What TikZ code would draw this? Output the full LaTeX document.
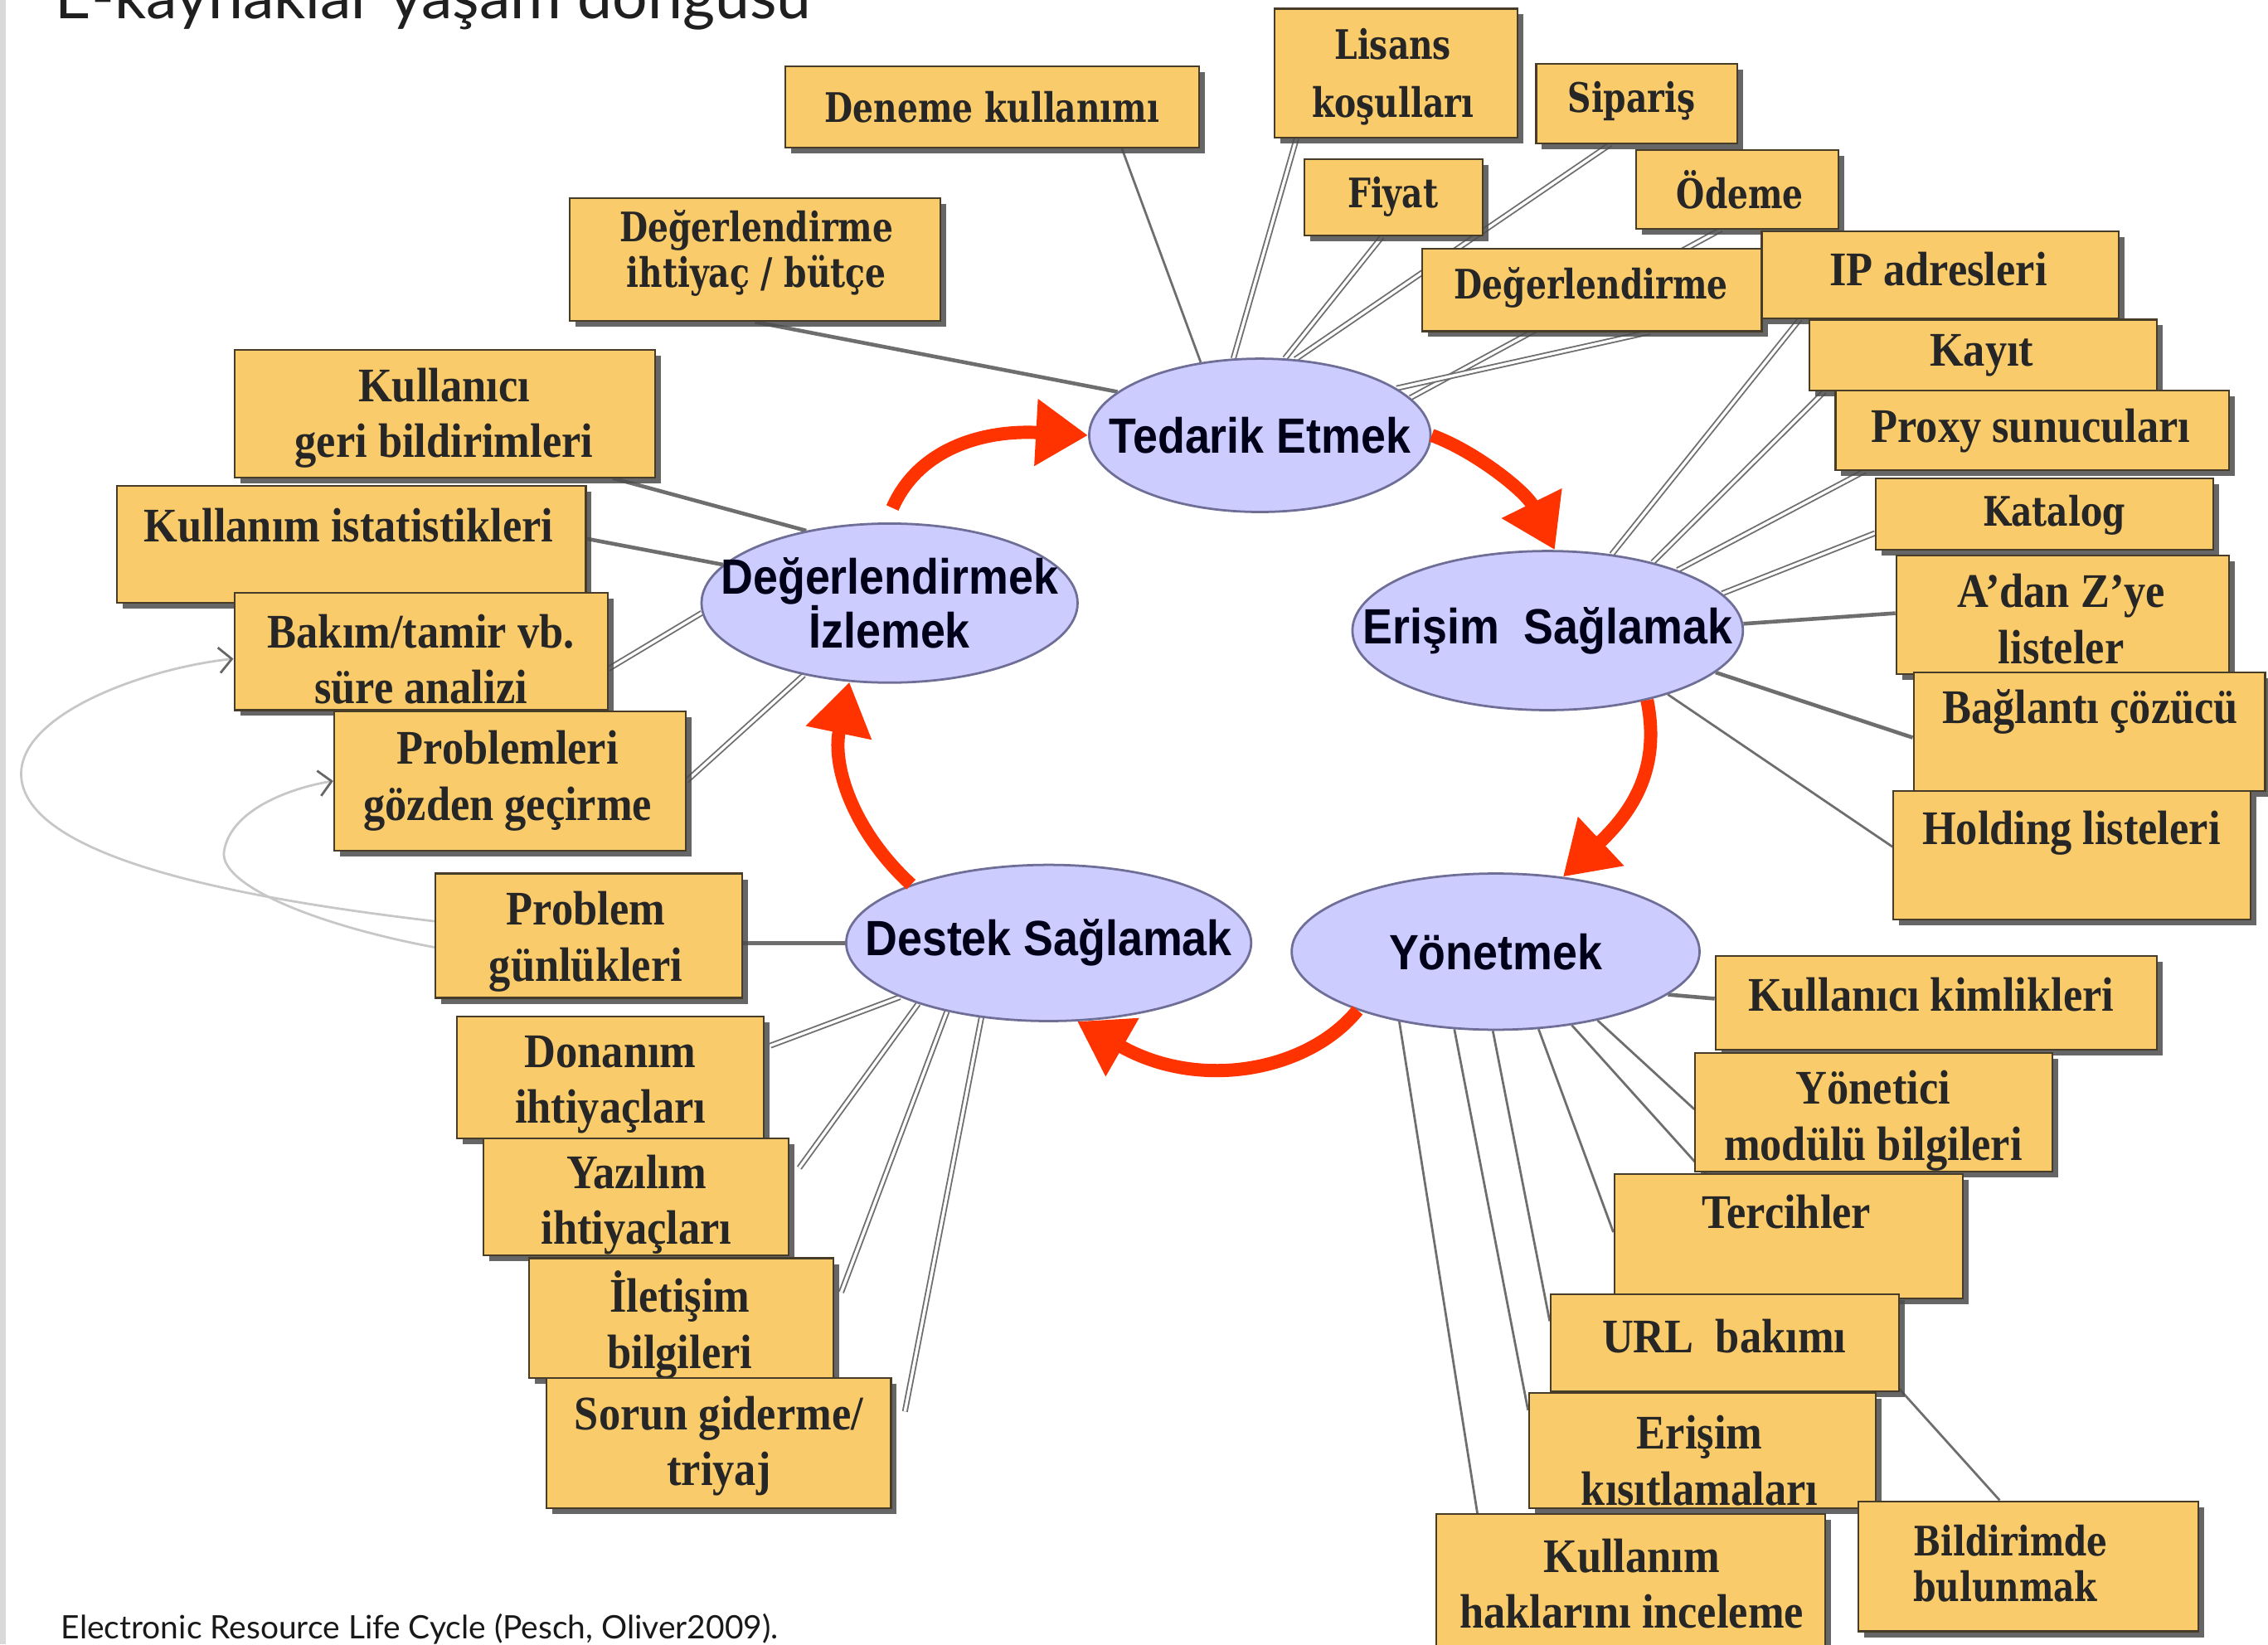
\documentclass[tikz,border=0pt]{standalone}
\usepackage{fontspec}
\usetikzlibrary{shapes.geometric,shadows,arrows.meta,calc}
\newfontfamily\tbfont{Liberation Serif}[FakeStretch=0.9]
\newfontfamily\sbfont{DejaVu Serif}[FakeStretch=0.8]
\newfontfamily\elfont{Liberation Sans}[FakeStretch=0.9]
\newfontfamily\capfont{Lato}
\definecolor{boxfill}{RGB}{250,203,106}
\definecolor{boxdraw}{RGB}{70,60,40}
\definecolor{ellfill}{RGB}{204,204,255}
\definecolor{elldraw}{RGB}{110,110,150}
\definecolor{redarr}{RGB}{255,51,0}
\definecolor{conn}{RGB}{110,110,110}
\pgfdeclarelayer{bg}
\pgfsetlayers{bg,main}
\tikzset{
  box/.style={rectangle, draw=boxdraw, line width=0.7pt, fill=boxfill, inner sep=0pt,
    drop shadow={shadow xshift=0.08cm, shadow yshift=-0.08cm, fill=black!70, opacity=0.85}},
  tb/.style={font=\tbfont\bfseries\fontsize{19}{22}\selectfont, text=black!85, align=center, inner sep=0pt},
  sb/.style={font=\sbfont\bfseries\fontsize{16}{18}\selectfont, text=black!85, align=center, inner sep=0pt},
  sbl/.style={sb, align=left},
  ell/.style={ellipse, draw=elldraw, line width=0.9pt, fill=ellfill, inner sep=0pt},
  etx/.style={font=\elfont\bfseries\fontsize{19.5}{21}\selectfont, text=black!90!blue, align=center, inner sep=0pt},
  rarr/.style={draw=redarr, line width=5.2pt, -{Triangle[width=0.88cm,length=0.72cm]}},
  cthick/.style={draw=conn, line width=1.5pt},
  cthin/.style={draw=conn, line width=0.9pt},
  cdbl/.style={draw=conn, line width=0.6pt, double=white, double distance=1.1pt},
  fa/.style={draw=black!22, line width=0.9pt, -{Straight Barb[length=5pt,width=10pt,color=black!60]}}
}
\newcommand\bx[9]{%
  \node[box, minimum width={(#4-#2)*0.02cm}, minimum height={(#5-#3)*0.02cm}] (#1) at ({(#2+#4)/2},{(#3+#5)/2}) {};
  \node[#8] (#1-t) at (#6,#7) {#9};}
\newcommand\el[6]{%
  \node[ell, minimum width={2*#4*0.02cm}, minimum height={2*#5*0.02cm}] (#1) at (#2,#3) {};
  \node[etx] (#1-t) at (#1) {#6};}
\begin{document}
\begin{tikzpicture}[x=0.02cm, y=-0.02cm]
\useasboundingbox (0,0) rectangle (1568,1137);
\clip (0,0) rectangle (1568,1137);

% title (cut off at the top, as in the source) and caption
\node[anchor=base west, inner sep=0pt, font=\capfont\fontsize{24.5}{26}\selectfont, text=black!88] (title) at (38,13) {E-kaynaklar yaşam döngüsü};
\node[anchor=base west, inner sep=0pt, font=\capfont\fontsize{12.7}{14}\selectfont, text=black!90] (caption) at (42,1133) {Electronic Resource Life Cycle (Pesch, Oliver2009).};

% boxes: top
\bx{den}{543}{46}{829}{102}{686}{74}{sb}{Deneme kullanımı}
\bx{lis}{881}{6}{1049}{95}{963}{53}{sb}{Lisans\\[5pt]koşulları}
\bx{sip}{1062}{44}{1201}{99}{1128}{70}{sb}{Sipariş}
\bx{fiy}{902}{110}{1025}{163}{963}{136}{sb}{Fiyat}
\bx{ode}{1131}{104}{1271}{158}{1203}{131}{sb}{Ödeme}
\bx{deg}{983}{172}{1218}{229}{1100}{199}{sb}{Değerlendirme}
\bx{ip}{1218}{160}{1465}{220}{1340}{186}{tb}{IP adresleri}
\bx{dib}{394}{137}{650}{222}{523}{175}{sb}{Değerlendirme\\ihtiyaç / bütçe}
% right
\bx{kay}{1251}{221}{1491}{270}{1370}{246}{tb}{Kayıt}
\bx{pro}{1269}{270}{1541}{325}{1404}{298}{tb}{Proxy sunucuları}
\bx{kat}{1297}{331}{1530}{380}{1420}{356}{sb}{Katalog}
\bx{adz}{1311}{384}{1541}{466}{1425}{428}{tb}{A’dan Z’ye\\listeler}
\bx{bag}{1323}{465}{1566}{547}{1445}{492}{tb}{Bağlantı çözücü}
\bx{hol}{1309}{547}{1556}{636}{1432}{576}{tb}{Holding listeleri}
% left
\bx{kgb}{162}{242}{453}{330}{307}{289}{tb}{Kullanıcı\\geri bildirimleri}
\bx{kis}{81}{336}{405}{417}{241}{363}{tb}{Kullanım istatistikleri}
\bx{bak}{162}{410}{420}{491}{291}{456}{tb}{Bakım/tamir vb.\\süre analizi}
\bx{prb}{231}{492}{474}{588}{351}{540}{tb}{Problemleri\\gözden geçirme}
% bottom left
\bx{pgu}{301}{604}{513}{690}{405}{651}{tb}{Problem\\günlükleri}
\bx{don}{316}{703}{528}{787}{422}{750}{tb}{Donanım\\ihtiyaçları}
\bx{yaz}{334}{787}{545}{868}{440}{833}{tb}{Yazılım\\ihtiyaçları}
\bx{ile}{366}{870}{576}{953}{470}{916}{tb}{İletişim\\bilgileri}
\bx{sor}{378}{953}{616}{1043}{497}{1000}{tb}{Sorun giderme/\\triyaj}
% bottom right
\bx{kki}{1186}{661}{1491}{726}{1335}{688}{tb}{Kullanıcı kimlikleri}
\bx{ymb}{1172}{728}{1419}{810}{1295}{775}{tb}{Yönetici\\modülü bilgileri}
\bx{ter}{1116}{812}{1357}{898}{1235}{838}{tb}{Tercihler}
\bx{url}{1072}{895}{1313}{962}{1192}{924}{tb}{URL\ \ bakımı}
\bx{eki}{1057}{963}{1297}{1043}{1175}{1010}{tb}{Erişim\\kısıtlamaları}
\bx{khi}{993}{1047}{1262}{1150}{1128}{1095}{tb}{Kullanım\\haklarını inceleme}
\bx{bil}{1285}{1038}{1520}{1128}{1390}{1081}{sbl}{Bildirimde\\bulunmak}

% ellipses
\el{ted}{871}{301}{118}{53}{Tedarik Etmek}
\el{eri}{1070}{436}{135}{55}{Erişim\ \ Sağlamak}
\el{dgi}{615}{417}{130}{55}{Değerlendirmek\\İzlemek}
\el{des}{725}{652}{140}{54}{Destek Sağlamak}
\el{yon}{1034}{658}{141}{54}{Yönetmek}

% background, connectors (behind)
\begin{pgfonlayer}{bg}
\fill[white] (0,0) rectangle (1568,1137);
\fill[black!15] (0,0) rectangle (4,1137);
\draw[cthick] (dib.south) -- (ted.163);
\draw[cthin] ($(den.south east)+(-54,0)$) -- (ted.129);
\draw[cdbl] ($(lis.south west)+(16,0)$) -- (ted.109);
\draw[cdbl] ($(fiy.south)+(-8,0)$) -- (ted.72);
\draw[cdbl] ($(sip.south)+(-18,0)$) -- (ted.65);
\draw[cdbl] ($(ode.south)+(-11,0)$) -- (ted.14);
\draw[cdbl] ($(deg.south)+(40,0)$) -- (ted.19);

\draw[cdbl] ($(ip.south west)+(27,0)$) -- (eri.50);
\draw[cdbl] ($(kay.south west)+(11,0)$) -- (eri.33);
\draw[cdbl] ($(pro.south west)+(21,0)$) -- (eri.25);
\draw[cdbl] ($(kat.south west)+(0,-12)$) -- (eri.12);
\draw[cthick] ($(adz.west)+(0,-1)$) -- (eri.2);
\draw[cthick] ($(bag.west)+(0,4)$) -- (eri.-14);
\draw[cthin] ($(hol.west)+(0,-6)$) -- (eri.-28);

\draw[cthick] ($(kgb.south east)+(-30,0)$) -- (dgi.139);
\draw[cthick] ($(kis.east)+(0,-4)$) -- (dgi.167);
\draw[cdbl] ($(bak.east)+(0,12)$) -- (dgi.183);
\draw[cdbl] (prb.east) -- (dgi.220);

\draw[cthick] ($(pgu.east)+(0,5)$) -- (des.180);
\draw[cdbl] ($(don.east)+(4,-22)$) -- (des.200);
\draw[cdbl] ($(yaz.east)+(7,-20)$) -- (des.205);
\draw[cdbl] ($(ile.east)+(5,-18)$) -- (des.214);
\draw[cdbl] ($(sor.east)+(9,-22)$) -- (des.228);

\draw[cthick] ($(kki.west)+(0,-3)$) -- (yon.-14);
\draw[cthin] ($(ymb.west)+(0,-2)$) -- (yon.-34);
\draw[cthin] ($(bil.north)+(-20,0)$) -- (yon.-44);
\draw[cthin] ($(ter.west)+(0,-3)$) -- (yon.-61);
\draw[cthin] ($(url.west)+(0,-15)$) -- (yon.268);
\draw[cthin] ($(eki.west)+(0,-28)$) -- (yon.242);
\draw[cthin] ($(khi.north west)+(29,0)$) -- (yon.216);

\draw[fa] ($(pgu.west)+(0,-10)$) .. controls (200,625) and (25,600) .. (15,540)
          .. controls (8,495) and (100,462) .. ($(bak.west)+(0,5)$);
\draw[fa] ($(pgu.west)+(0,8)$) .. controls (220,640) and (150,612) .. (155,588)
          .. controls (160,560) and (200,545) .. (prb.west);
\end{pgfonlayer}

% red cycle arrows
\draw[rarr] ($(dgi.north)+(2,-10)$) .. controls (635,310) and (680,297) .. (ted.west);
\draw[rarr] (ted.east) .. controls (1020,312) and (1055,340) .. (eri.85);
\draw[rarr] (eri.-35) .. controls (1148,530) and (1130,560) .. (yon.48);
\draw[rarr] (yon.203) .. controls (905,740) and (830,755) .. (des.290);
\draw[rarr] (des.157) .. controls (590,575) and (575,530) .. (dgi.243);
\end{tikzpicture}
\end{document}
